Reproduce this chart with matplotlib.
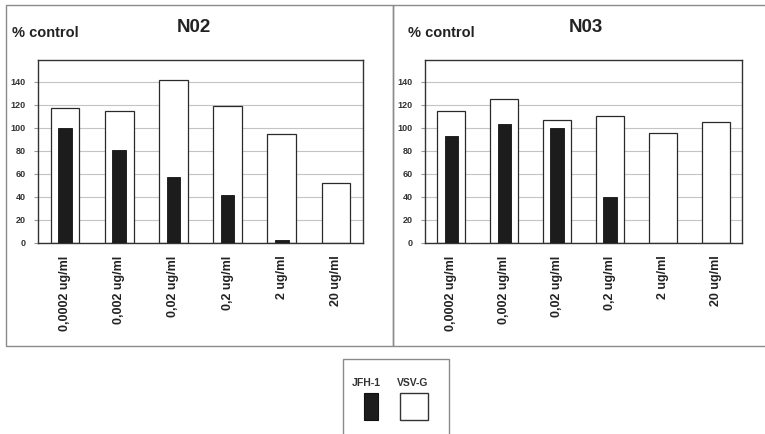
import matplotlib
matplotlib.use("Agg")
from matplotlib import pyplot as plt
from matplotlib.patches import Rectangle

plt.rcParams['font.family'] = ['Liberation Sans', 'DejaVu Sans']

doses = ['0,0002 ug/ml', '0,002 ug/ml', '0,02 ug/ml', '0,2 ug/ml', '2 ug/ml', '20 ug/ml']
yticks = [0, 20, 40, 60, 80, 100, 120, 140]

# % of control for each cell line
n02_vsvg = [117, 115, 142, 119, 95, 52]
n02_jfh1 = [100, 81, 57, 42, 2.5, 0]
n03_vsvg = [115, 125, 107, 110, 96, 105]
n03_jfh1 = [93, 103, 100, 40, 0, 0]

W, H = 765, 434
fig = plt.figure(figsize=(W / 100, H / 100), dpi=100)
fig.patch.set_facecolor('white')


def px_rect(x0, y0, x1, y1, **kw):
    # rectangle given in pixel coords, origin top-left
    return Rectangle((x0 / W, 1 - y1 / H), (x1 - x0) / W, (y1 - y0) / H,
                     transform=fig.transFigure, **kw)


def px_text(x, y, s, **kw):
    fig.text(x / W, 1 - y / H, s, **kw)


def panel(left, right, title, title_x, label_x, vsvg, jfh1):
    ax = fig.add_axes([left / W, 1 - 243 / H, (right - left) / W, 183 / H])
    x = range(len(doses))
    ax.bar(x, vsvg, width=0.53, color='white', edgecolor='#2a2a2a', linewidth=0.9, zorder=2)
    ax.bar(x, jfh1, width=0.25, color='#1c1c1c', edgecolor='#111111', linewidth=0.6, zorder=3)
    ax.set_xlim(-0.5, len(doses) - 0.5)
    ax.set_ylim(0, 159)
    ax.set_yticks(yticks)
    ax.set_yticklabels([str(v) for v in yticks], fontsize=6.5, fontweight='bold', color='#333333')
    ax.set_xticks(list(x))
    ax.set_xticklabels(doses, rotation=90, fontsize=9, fontweight='bold', color='#222222')
    ax.tick_params(axis='x', length=0, pad=9)
    ax.tick_params(axis='y', length=3, color='#999999', pad=6)
    ax.yaxis.grid(True, color='#c4c4c4', linewidth=0.8, zorder=0)
    ax.set_axisbelow(True)
    for sp in ax.spines.values():
        sp.set_color('#333333')
        sp.set_linewidth(1.0)
    px_text(title_x, 28, title, fontsize=13.5, fontweight='bold', color='#222222',
            ha='center', va='center')
    px_text(label_x, 33, '% control', fontsize=10.5, fontweight='bold', color='#222222',
            ha='left', va='center')
    return ax


panel(38, 363, 'N02', 194, 12, n02_vsvg, n02_jfh1)
panel(425, 742, 'N03', 586, 408, n03_vsvg, n03_jfh1)

# panel frames
fig.patches.append(px_rect(6, 5, 393, 346, fill=False, edgecolor='#8a8a8a', linewidth=1.0))
fig.patches.append(px_rect(393, 5, 770, 346, fill=False, edgecolor='#8a8a8a', linewidth=1.0))

# legend
fig.patches.append(px_rect(343, 359, 449, 440, fill=False, edgecolor='#8a8a8a', linewidth=1.0))
px_text(366, 383, 'JFH-1', fontsize=7.5, fontweight='bold', color='#333333', ha='center', va='center')
px_text(413, 383, 'VSV-G', fontsize=7.5, fontweight='bold', color='#333333', ha='center', va='center')
fig.patches.append(px_rect(364, 393, 378, 420, facecolor='#1c1c1c', edgecolor='#111111', linewidth=0.8))
fig.patches.append(px_rect(400, 393, 428, 420, facecolor='white', edgecolor='#333333', linewidth=1.0))

fig.savefig('out.png', dpi=100)
